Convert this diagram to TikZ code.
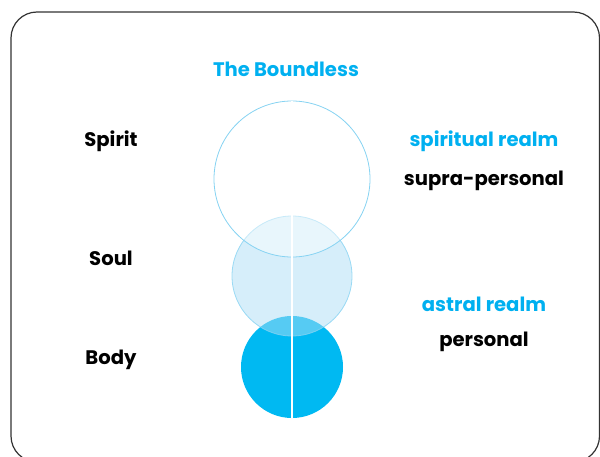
\documentclass[tikz,border=0pt]{standalone}
\usepackage{fontspec}
\setmainfont{Poppins}
\definecolor{cyantext}{HTML}{00B0F0}
\definecolor{cyanfill}{HTML}{00B9F2}
\definecolor{ringblue}{HTML}{86D3F2}
\definecolor{midfill}{HTML}{ADDDF5}
\definecolor{framegray}{HTML}{333333}
\tikzset{
  lbl/.style={font=\fontsize{19.6}{23}\selectfont\bfseries, text=black, inner sep=0pt, anchor=center},
  bluelbl/.style={lbl, text=cyantext},
  ring/.style={circle, draw=ringblue, line width=0.8pt, inner sep=0pt},
}
\begin{document}
\begin{tikzpicture}[x=1pt,y=1pt]
\useasboundingbox (0,0) rectangle (600,456);
\begin{scope}
\clip (0,0) rectangle (600,456);
\draw[framegray, line width=1.2pt, rounded corners=26pt] (11,444) rectangle (599.5,-6);
\end{scope}
% circles
\node[circle, fill=cyanfill, inner sep=0pt, minimum size=102pt] (body) at (292,89) {};
\node[ring, fill=midfill, fill opacity=0.5, draw opacity=0.8, minimum size=120pt] (soul) at (292,180) {};
\node[ring, fill=white, fill opacity=0.45, minimum size=156pt] (spirit) at (292,277) {};
\draw[white, line width=1.4pt] (spirit.north) -- (body.south);
% labels
\node[bluelbl] (boundless) at (286,387) {The Boundless};
\node[lbl] (tspirit) at (111,315) {Spirit};
\node[lbl] (tsoul) at (111,198) {Soul};
\node[lbl] (tbody) at (111,96) {Body};
\node[bluelbl] (spr) at (484,315) {spiritual realm};
\node[lbl] (supra) at (484,275) {supra-personal};
\node[bluelbl] (astral) at (484,152) {astral realm};
\node[lbl] (pers) at (484,114) {personal};
\end{tikzpicture}
\end{document}
